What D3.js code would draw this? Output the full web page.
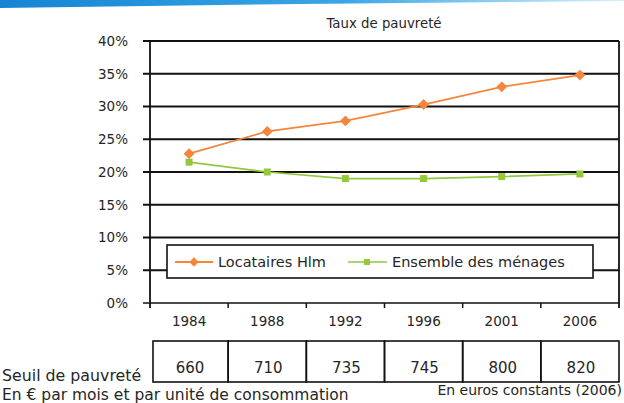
<!DOCTYPE html>
<html><head><meta charset="utf-8">
<script src="https://cdn.jsdelivr.net/npm/d3@7"></script>
<style>
html,body{margin:0;padding:0;background:#fff;}
svg{display:block;font-family:"DejaVu Sans",sans-serif;}
</style></head>
<body>
<svg id="chart" width="624" height="403"></svg>
<script>
const years = ["1984","1988","1992","1996","2001","2006"];
const locatairesHlm = [22.8, 26.2, 27.8, 30.3, 33.0, 34.8];
const ensembleMenages = [21.5, 20.0, 19.0, 19.0, 19.3, 19.7];
const seuil = [660, 710, 735, 745, 800, 820];
const yTicks = [0,5,10,15,20,25,30,35,40];
const seriesNames = ["Locataires Hlm", "Ensemble des ménages"];

(function(){
const svg = d3.select("#chart");
const FONT = "DejaVu Sans, sans-serif";
const pLeft = 150, pRight = 619, pTop = 41, pBottom = 303;
const orange = "#f4863b", green = "#93c83e", ink = "#262626";

// top blue band
const defs = svg.append("defs");
const grad = defs.append("linearGradient").attr("id","band").attr("x1","0").attr("x2","1");
grad.append("stop").attr("offset","0").attr("stop-color","#1585d3");
grad.append("stop").attr("offset","0.55").attr("stop-color","#3aa6e6");
grad.append("stop").attr("offset","1").attr("stop-color","#d7effb");
svg.append("path").attr("d","M0,0 L624,0 L624,1 L300,4 L0,8 Z").attr("fill","url(#band)");

const x = d3.scaleBand().domain(years).range([pLeft, pRight]);
const y = d3.scaleLinear().domain([0, 40]).range([pBottom, pTop]);

// title
svg.append("text").attr("x", 384).attr("y", 28).attr("text-anchor","middle")
  .attr("font-size", 13.3).attr("fill", ink).text("Taux de pauvreté");

// gridlines
svg.append("g").selectAll("line").data(yTicks).join("line")
  .attr("x1", pLeft - 7).attr("x2", pRight)
  .attr("y1", d => y(d)).attr("y2", d => y(d))
  .attr("stroke", "#111").attr("stroke-width", d => d === 0 ? 1.6 : 1.9);

// frame
svg.append("line").attr("x1", pLeft).attr("x2", pLeft).attr("y1", pTop).attr("y2", pBottom + 5)
  .attr("stroke","#111").attr("stroke-width",1.8);
svg.append("line").attr("x1", pRight).attr("x2", pRight).attr("y1", pTop).attr("y2", pBottom + 5)
  .attr("stroke","#111").attr("stroke-width",1.8);

// y axis labels
const yAxis = svg.append("g").attr("transform", `translate(${pLeft},0)`)
  .call(d3.axisLeft(y).tickValues(yTicks).tickFormat(d => d + "%").tickSize(0).tickPadding(22));
yAxis.select(".domain").remove();
yAxis.selectAll("text").attr("font-size", 13.5).attr("fill", ink).attr("font-family", FONT);

// x axis
const xAxis = svg.append("g").attr("transform", `translate(0,${pBottom})`)
  .call(d3.axisBottom(x).tickSize(0).tickPadding(13));
xAxis.select(".domain").remove();
xAxis.selectAll("text").attr("font-size", 13.5).attr("fill", ink).attr("font-family", FONT);
svg.append("g").selectAll("line").data(years.slice(1)).join("line")
  .attr("x1", d => x(d)).attr("x2", d => x(d))
  .attr("y1", pBottom).attr("y2", pBottom + 5)
  .attr("stroke","#111").attr("stroke-width",1.5);

// lines
const line = d3.line().x((d,i) => x(years[i]) + x.bandwidth()/2).y(d => y(d));
svg.append("path").datum(ensembleMenages).attr("d", line)
  .attr("fill","none").attr("stroke", green).attr("stroke-width", 1.7);
svg.append("path").datum(locatairesHlm).attr("d", line)
  .attr("fill","none").attr("stroke", orange).attr("stroke-width", 1.8);

svg.append("g").selectAll("rect").data(ensembleMenages).join("rect")
  .attr("x", (d,i) => x(years[i]) + x.bandwidth()/2 - 3.5)
  .attr("y", d => y(d) - 3.5).attr("width", 7).attr("height", 7).attr("fill", green);
svg.append("g").selectAll("path").data(locatairesHlm).join("path")
  .attr("d", d3.symbol().type(d3.symbolDiamond2).size(75))
  .attr("transform", (d,i) => `translate(${x(years[i]) + x.bandwidth()/2},${y(d)})`)
  .attr("fill", orange);

// legend
const lg = svg.append("g");
lg.append("rect").attr("x",167).attr("y",245).attr("width",426).attr("height",33)
  .attr("fill","#fff").attr("stroke","#111").attr("stroke-width",1.6);
lg.append("line").attr("x1",175).attr("x2",213).attr("y1",262).attr("y2",262).attr("stroke",orange).attr("stroke-width",1.8);
lg.append("path").attr("d", d3.symbol().type(d3.symbolDiamond2).size(55)).attr("transform","translate(194,262)").attr("fill",orange);
lg.append("text").attr("x",218).attr("y",267).attr("font-size",14.5).attr("fill", ink).text(seriesNames[0]);
lg.append("line").attr("x1",348).attr("x2",387).attr("y1",262).attr("y2",262).attr("stroke",green).attr("stroke-width",1.7);
lg.append("rect").attr("x",364).attr("y",259).attr("width",6).attr("height",6).attr("fill",green);
lg.append("text").attr("x",392).attr("y",267).attr("font-size",14.5).attr("fill", ink).text(seriesNames[1]);

// table of thresholds
const tTop = 341, tBot = 382;
const tg = svg.append("g");
tg.selectAll("rect").data(seuil).join("rect")
  .attr("x", (d,i) => x(years[i]) + (i === 0 ? 3 : 0))
  .attr("y", tTop)
  .attr("width", (d,i) => x.bandwidth() - (i === 0 ? 3 : 0))
  .attr("height", tBot - tTop)
  .attr("fill","none").attr("stroke","#111").attr("stroke-width",1.6);
tg.selectAll("text").data(seuil).join("text")
  .attr("x", (d,i) => x(years[i]) + x.bandwidth()/2 + 1)
  .attr("y", 373).attr("text-anchor","middle").attr("font-size",15).attr("fill", ink)
  .text(d => d);

svg.append("text").attr("x",2).attr("y",381).attr("font-size",15.8).attr("fill", ink).text("Seuil de pauvreté");
svg.append("text").attr("x",2).attr("y",400).attr("font-size",15.5).attr("fill", ink).text("En € par mois et par unité de consommation");
svg.append("text").attr("x",622).attr("y",395).attr("text-anchor","end").attr("font-size",14).attr("fill", ink).text("En euros constants (2006)");
})();
</script>
</body></html>
